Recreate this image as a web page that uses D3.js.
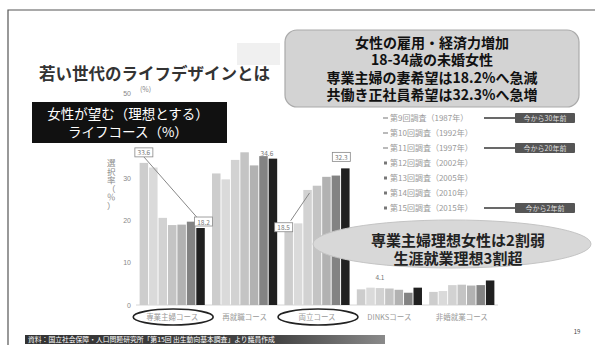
<!DOCTYPE html>
<html>
<head>
<meta charset="utf-8">
<script src="https://cdn.jsdelivr.net/npm/d3@7"></script>
<style>
  body { margin: 0; background: #fff; }
  svg { display: block; font-family: "Noto Sans CJK JP", "Noto Sans", sans-serif; }
</style>
</head>
<body>
<div id="chart"></div>
<script>
// ライフコース別の選択率（%）
var courses = ["専業主婦コース", "再就職コース", "両立コース", "DINKSコース", "非婚就業コース"];
var surveys = ["第9回調査（1987年）", "第10回調査（1992年）", "第11回調査（1997年）", "第12回調査（2002年）",
               "第13回調査（2005年）", "第14回調査（2010年）", "第15回調査（2015年）"];
var housewife = [33.6, 32.5, 20.6, 18.9, 19.0, 19.7, 18.2];
var reentry   = [31.1, 29.7, 34.3, 36.1, 33.0, 35.2, 34.6];
var balance   = [18.5, 19.3, 27.2, 28.2, 30.3, 30.6, 32.3];
var dinks     = [3.7, 4.1, 4.0, 3.9, 3.6, 2.9, 4.1];
var career    = [3.1, 3.3, 4.7, 4.8, 4.6, 4.7, 5.8];
var yTicks = [0, 10, 20, 30, 50];   // 40 is hidden under the title box
var periodTags = [[0, "今から30年前"], [2, "今から20年前"], [6, "今から2年前"]];

var boxLines = ["女性の雇用・経済力増加", "18-34歳の未婚女性", "専業主婦の妻希望は18.2%へ急減", "共働き正社員希望は32.3%へ急増"];
var ovalLines = ["専業主婦理想女性は2割弱", "生涯就業理想3割超"];

var width = 595, height = 353;
var series = [housewife, reentry, balance, dinks, career];
var color = ["#cdcdcd", "#dadada", "#d2d2d2", "#c4c4c4", "#b2b2b2", "#838383", "#202020"];

var svg = d3.select('#chart').append('svg')
  .attr('width', width).attr('height', height);

svg.append('rect').attr('width', width).attr('height', height).attr('fill', '#fff');

// slide frame
svg.append('path').attr('d', 'M8,345V10H595').attr('fill', 'none').attr('stroke', '#555').attr('stroke-width', 1.2);
svg.append('rect').attr('x', 237).attr('y', 43).attr('width', 43).attr('height', 22).attr('fill', '#f0f0f0');

var x = d3.scaleBand().domain(courses).range([136, 498]).paddingInner(0.1).paddingOuter(0.05);
var xs = d3.scaleBand().domain(d3.range(surveys.length)).range([0, x.bandwidth()]).paddingInner(0.1);
var y = d3.scaleLinear().domain([0, 50]).range([305, 93.5]);

// axis
var yAxis = svg.append('g').attr('transform', 'translate(133,0)')
  .call(d3.axisLeft(y).tickValues(yTicks).tickSize(0).tickPadding(2));
yAxis.select('.domain').remove();
yAxis.selectAll('text').attr('font-size', 7).attr('fill', '#888');

svg.append('text').attr('x', 140).attr('y', 92).attr('font-size', 7).attr('fill', '#888').text('(%)');

// vertical axis title: run the line downwards, turn each glyph back upright
var yTitle = '選択率（％）';
svg.append('text')
  .attr('transform', 'translate(107,166) rotate(90)')
  .attr('rotate', yTitle.split('').map(function() { return -90; }).join(' '))
  .attr('font-size', 8.5).attr('fill', '#888')
  .text(yTitle);

svg.append('line').attr('x1', 136).attr('x2', 498).attr('y1', y(0)).attr('y2', y(0))
  .attr('stroke', '#ccc').attr('stroke-width', 0.8);

// bars
var groups = svg.selectAll('g.grp')
  .data(courses)
  .enter()
  .append('g')
  .attr('class', 'grp')
  .attr('transform', function(d) { return 'translate(' + x(d) + ',0)'; });

groups.selectAll('rect')
  .data(function(d, i) { return series[i]; })
  .enter()
  .append('rect')
  .attr('x', function(d, i) { return xs(i); })
  .attr('y', function(d) { return y(d); })
  .attr('width', xs.bandwidth())
  .attr('height', function(d) { return y(0) - y(d); })
  .attr('fill', function(d, i) { return color[i]; });

function barX(c, i) { return x(courses[c]) + xs(i) + xs.bandwidth() / 2; }

// connector lines
svg.append('line')
  .attr('x1', barX(0, 0)).attr('y1', y(housewife[0]) - 6)
  .attr('x2', barX(0, 6) - 3).attr('y2', y(housewife[6]) - 10)
  .attr('stroke', '#888').attr('stroke-width', 1);
svg.append('line')
  .attr('x1', barX(2, 0) + 2).attr('y1', y(balance[0]) - 6)
  .attr('x2', barX(2, 2) + 2).attr('y2', y(balance[2]) + 3)
  .attr('stroke', '#888').attr('stroke-width', 1);

function boxLabel(cx, cy, txt) {
  svg.append('rect').attr('x', cx - 9).attr('y', cy - 5).attr('width', 18).attr('height', 9)
    .attr('fill', '#fff').attr('stroke', '#888').attr('stroke-width', 0.8);
  svg.append('text').attr('x', cx).attr('y', cy + 2.5).attr('text-anchor', 'middle')
    .attr('font-size', 6.5).attr('fill', '#777').text(txt);
}
boxLabel(barX(0, 0), y(housewife[0]) - 10, housewife[0].toFixed(1));
boxLabel(barX(0, 6) + 3, y(housewife[6]) - 6, housewife[6].toFixed(1));
boxLabel(barX(2, 0) - 5, y(balance[0]) + 1, balance[0].toFixed(1));
boxLabel(barX(2, 6) - 4, y(balance[6]) - 11, balance[6].toFixed(1));

svg.append('text').attr('x', barX(1, 6) - 6).attr('y', y(reentry[6]) - 3).attr('text-anchor', 'middle')
  .attr('font-size', 6.5).attr('fill', '#777').text(reentry[6].toFixed(1));
svg.append('text').attr('x', barX(3, 2)).attr('y', y(dinks[6]) - 8).attr('text-anchor', 'middle')
  .attr('font-size', 6.5).attr('fill', '#777').text(dinks[6].toFixed(1));

// category labels
svg.selectAll('text.cat')
  .data(courses)
  .enter()
  .append('text')
  .attr('class', 'cat')
  .attr('x', function(d) { return x(d) + x.bandwidth() / 2; })
  .attr('y', 320)
  .attr('text-anchor', 'middle')
  .attr('font-size', 7.5)
  .attr('fill', '#999')
  .text(function(d) { return d; });

[0, 2].forEach(function(c) {
  svg.append('ellipse')
    .attr('cx', x(courses[c]) + x.bandwidth() / 2 + 1).attr('cy', 317)
    .attr('rx', 40).attr('ry', 8)
    .attr('fill', 'none').attr('stroke', '#222').attr('stroke-width', 1.6);
});

// title
svg.append('text').attr('x', 39).attr('y', 80)
  .attr('font-size', 16.5).attr('font-weight', 'bold').attr('fill', '#333')
  .text('若い世代のライフデザインとは');

svg.append('rect').attr('x', 32).attr('y', 102).attr('width', 195).attr('height', 41).attr('fill', '#111');
svg.append('text').attr('x', 128).attr('y', 119).attr('text-anchor', 'middle')
  .attr('font-size', 13.5).attr('fill', '#fff').text('女性が望む（理想とする）');
svg.append('text').attr('x', 128).attr('y', 137).attr('text-anchor', 'middle')
  .attr('font-size', 13.5).attr('fill', '#fff').text('ライフコース（%）');

// gray summary box
svg.append('rect').attr('x', 285).attr('y', 30).attr('width', 294).attr('height', 77)
  .attr('rx', 12).attr('fill', '#d3d3d3').attr('stroke', '#aaa').attr('stroke-width', 1.2);
svg.selectAll('text.box')
  .data(boxLines)
  .enter()
  .append('text')
  .attr('class', 'box')
  .attr('x', 432)
  .attr('y', function(d, i) { return 48 + i * 17.3; })
  .attr('text-anchor', 'middle')
  .attr('font-size', 14)
  .attr('font-weight', 'bold')
  .attr('fill', '#111')
  .text(function(d) { return d; });

// legend
var legend = svg.selectAll('g.leg')
  .data(surveys)
  .enter()
  .append('g')
  .attr('class', 'leg')
  .attr('transform', function(d, i) { return 'translate(383,' + (118 + i * 15) + ')'; });
legend.append('rect')
  .attr('x', function(d, i) { return i < 3 ? 0 : 1; })
  .attr('y', function(d, i) { return i < 3 ? -0.8 : -1.5; })
  .attr('width', function(d, i) { return i < 3 ? 5 : 3; })
  .attr('height', function(d, i) { return i < 3 ? 1.6 : 3; })
  .attr('fill', function(d, i) { return i < 3 ? '#aaa' : '#777'; });
legend.append('text')
  .attr('x', 7).attr('y', 3)
  .attr('font-size', 8).attr('fill', '#999')
  .text(function(d) { return d; });

periodTags.forEach(function(t) {
  var ty = 118 + t[0] * 15;
  svg.append('line').attr('x1', 484).attr('x2', 516).attr('y1', ty).attr('y2', ty)
    .attr('stroke', '#444').attr('stroke-width', 1.6);
  svg.append('rect').attr('x', 515).attr('y', ty - 5).attr('width', 60).attr('height', 10)
    .attr('rx', 1).attr('fill', '#555');
  svg.append('text').attr('x', 545).attr('y', ty + 2.5).attr('text-anchor', 'middle')
    .attr('font-size', 7).attr('fill', '#ddd').text(t[1]);
});

// oval callout
svg.append('ellipse').attr('cx', 452).attr('cy', 244).attr('rx', 139).attr('ry', 24)
  .attr('fill', '#d8d8d8').attr('stroke', '#c4c4c4').attr('stroke-width', 1);
svg.selectAll('text.oval')
  .data(ovalLines)
  .enter()
  .append('text')
  .attr('class', 'oval')
  .attr('x', 458)
  .attr('y', function(d, i) { return 246 + i * 18; })
  .attr('text-anchor', 'middle')
  .attr('font-size', 15)
  .attr('font-weight', 'bold')
  .attr('fill', '#222')
  .text(function(d) { return d; });

// source strip
var grad = svg.append('defs').append('linearGradient').attr('id', 'src');
grad.append('stop').attr('offset', '0%').attr('stop-color', '#333');
grad.append('stop').attr('offset', '70%').attr('stop-color', '#444');
grad.append('stop').attr('offset', '100%').attr('stop-color', '#8a8a8a');
svg.append('rect').attr('x', 25).attr('y', 335).attr('width', 360).attr('height', 9).attr('fill', 'url(#src)');
svg.append('text').attr('x', 28).attr('y', 342)
  .attr('font-size', 6.8).attr('fill', '#fff')
  .text('資料：国立社会保障・人口問題研究所「第15回 出生動向基本調査」より議員作成');

svg.append('text').attr('x', 577).attr('y', 334).attr('text-anchor', 'middle')
  .attr('font-size', 6).attr('fill', '#444').text('19');
</script>
</body>
</html>
